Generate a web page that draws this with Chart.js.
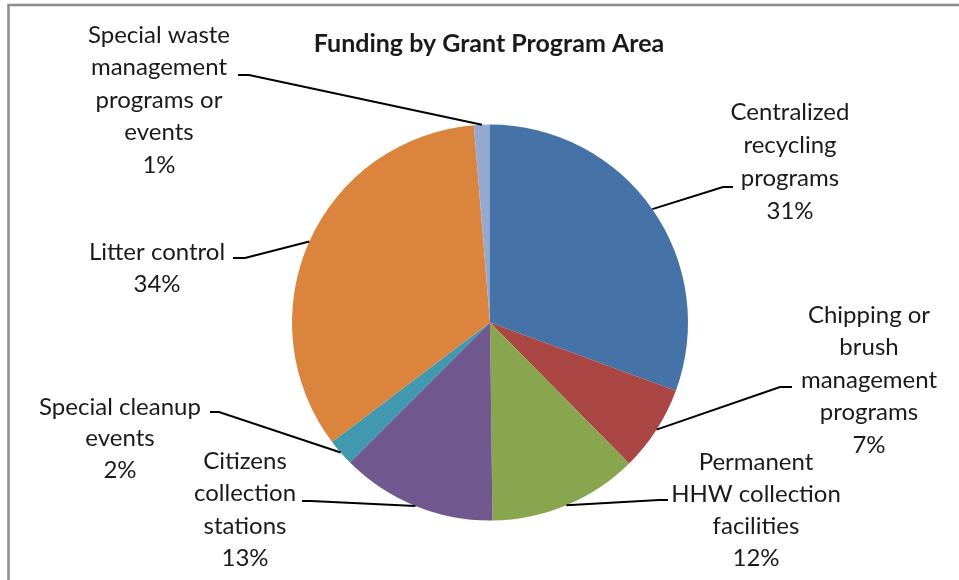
<!DOCTYPE html>
<html lang="en">
<head>
    <meta charset="UTF-8">
    <title>Funding by Grant Program Area</title>
    <script src="https://cdn.jsdelivr.net/npm/chart.js"></script>
    <style>
        html, body {
            margin: 0;
            padding: 0;
            background: #fff;
        }

        .chart-container {
            position: relative;
            width: 959px;
            height: 580px;
        }
    </style>
</head>
<body>

    <div class="chart-container">
        <canvas id="pieChart"></canvas>
    </div>

    <script>
        const chartTitle = "Funding by Grant Program Area";

        // program areas, one line of text per entry
        const categories = [
            ["Centralized", "recycling", "programs"],
            ["Chipping or", "brush", "management", "programs"],
            ["Permanent", "HHW collection", "facilities"],
            ["Citizens", "collection", "stations"],
            ["Special cleanup", "events"],
            ["Litter control"],
            ["Special waste", "management", "programs or", "events"]
        ];

        // share of funding (%)
        const shares = [30.6, 7.0, 12.2, 12.7, 2.2, 34.0, 1.3];

        const sliceColors = ["#4572A7", "#AA4643", "#89A54E", "#71588F", "#4198AF", "#DB843D", "#93A9CF"];

        // where each label block sits: text centre x, first line y, line height, and the short stub of the leader
        const labelLayout = [
            { cx: 790, top: 112, lh: 33,   stub: [733, 723, 187] },
            { cx: 869, top: 315, lh: 32.5, stub: [792, 780, 387] },
            { cx: 756, top: 462, lh: 32,   stub: [668, 659, 500] },
            { cx: 245, top: 461, lh: 32.5, stub: [302, 311, 501] },
            { cx: 120, top: 407, lh: 31.5, stub: [210, 219, 412] },
            { cx: 157, top: 252, lh: 32.5, stub: [233, 245, 258] },
            { cx: 159, top: 35,  lh: 32.5, stub: [238, 249, 75] }
        ];

        const labelFont = "24px Lato, 'Noto Sans', sans-serif";
        const titleFont = "bold 25px Lato, 'Noto Sans', sans-serif";

        const decorPlugin = {
            id: 'decor',
            beforeDraw(chart) {
                const ctx = chart.ctx;
                ctx.save();
                ctx.strokeStyle = '#8c8c8c';
                ctx.lineWidth = 2.5;
                ctx.beginPath();
                ctx.moveTo(8.5, chart.height);
                ctx.lineTo(8.5, 5);
                ctx.lineTo(chart.width, 5);
                ctx.stroke();
                ctx.restore();
            },
            afterDatasetsDraw(chart) {
                const ctx = chart.ctx;
                const arcs = chart.getDatasetMeta(0).data;
                const total = shares.reduce((a, b) => a + b, 0);

                ctx.save();
                ctx.fillStyle = '#1a1a1a';
                ctx.textAlign = 'center';
                ctx.textBaseline = 'middle';

                ctx.font = titleFont;
                ctx.fillText(chartTitle, 489, 44);

                ctx.font = labelFont;
                arcs.forEach((arc, i) => {
                    const lay = labelLayout[i];
                    const lines = categories[i].concat([Math.round(shares[i] / total * 100) + '%']);
                    lines.forEach((txt, j) => {
                        ctx.fillText(txt, lay.cx, lay.top + j * lay.lh);
                    });

                    // leader line: stub, then to the middle of the slice's edge
                    const mid = (arc.startAngle + arc.endAngle) / 2;
                    const px = arc.x + Math.cos(mid) * arc.outerRadius;
                    const py = arc.y + Math.sin(mid) * arc.outerRadius;
                    ctx.strokeStyle = '#000';
                    ctx.lineWidth = 2;
                    ctx.beginPath();
                    ctx.moveTo(lay.stub[0], lay.stub[2]);
                    ctx.lineTo(lay.stub[1], lay.stub[2]);
                    ctx.lineTo(px, py);
                    ctx.stroke();
                });
                ctx.restore();
            }
        };

        const ctx = document.getElementById('pieChart').getContext('2d');

        new Chart(ctx, {
            type: 'pie',
            data: {
                labels: categories.map(c => c.join(' ')),
                datasets: [{
                    data: shares,
                    backgroundColor: sliceColors,
                    borderWidth: 0
                }]
            },
            options: {
                responsive: true,
                maintainAspectRatio: false,
                animation: false,
                layout: {
                    padding: { top: 124.5, bottom: 59.5, left: 292, right: 271 }
                },
                plugins: {
                    legend: { display: false },
                    title: { display: false },
                    tooltip: { enabled: false }
                }
            },
            plugins: [decorPlugin]
        });
    </script>

</body>
</html>
